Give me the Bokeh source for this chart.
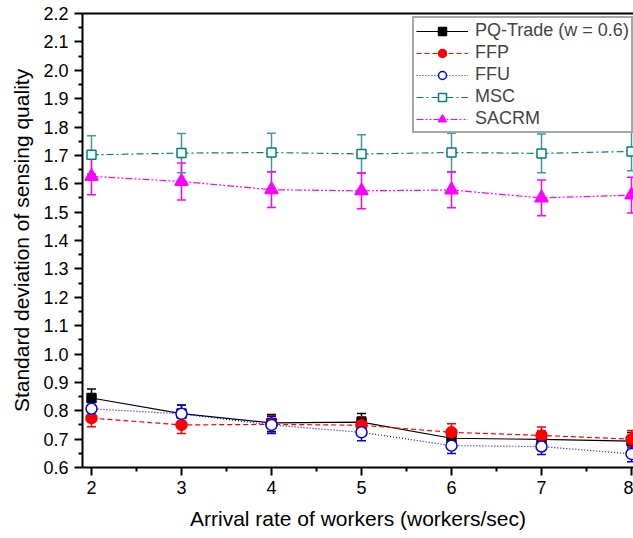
from bokeh.plotting import figure
from bokeh.models import (ColumnDataSource, Whisker, TeeHead, Range1d, FixedTicker,
                          Legend, LegendItem, LinearAxis, NumeralTickFormatter)
from bokeh.embed import file_html
from bokeh.resources import INLINE

# ---- data ----
x_vals = [2, 3, 4, 5, 6, 7, 8]
pq_trade = [0.845, 0.790, 0.757, 0.760, 0.703, 0.699, 0.693]
pq_err = [0.032, 0.030, 0.030, 0.030, 0.030, 0.030, 0.030]
ffp = [0.774, 0.750, 0.752, 0.749, 0.724, 0.713, 0.700]
ffp_err = [0.030, 0.030, 0.030, 0.030, 0.030, 0.030, 0.030]
ffu = [0.807, 0.789, 0.750, 0.724, 0.677, 0.674, 0.648]
ffu_err = [0.028, 0.030, 0.030, 0.030, 0.028, 0.028, 0.028]
msc = [1.702, 1.708, 1.710, 1.705, 1.710, 1.707, 1.714]
msc_err = [0.067, 0.069, 0.068, 0.068, 0.068, 0.068, 0.068]
sacrm = [1.626, 1.608, 1.579, 1.575, 1.578, 1.550, 1.560]
sacrm_err = [0.065, 0.065, 0.063, 0.063, 0.063, 0.063, 0.063]

x_ticks = [2, 3, 4, 5, 6, 7, 8]
x_minor_ticks = [2.5, 3.5, 4.5, 5.5, 6.5, 7.5]
y_ticks = [0.6, 0.7, 0.8, 0.9, 1.0, 1.1, 1.2, 1.3, 1.4, 1.5, 1.6, 1.7, 1.8, 1.9, 2.0, 2.1, 2.2]
y_minor_ticks = [0.65, 0.75, 0.85, 0.95, 1.05, 1.15, 1.25, 1.35, 1.45, 1.55,
                 1.65, 1.75, 1.85, 1.95, 2.05, 2.15]

series = [
    ("PQ-Trade (w = 0.6)", pq_trade, pq_err, "black", "solid", "square", "black", 9, "black"),
    ("FFP", ffp, ffp_err, "red", "5 3", "circle", "red", 11, "red"),
    ("FFU", ffu, ffu_err, "blue", "1 2", "circle", "white", 11, "blue"),
    ("MSC", msc, msc_err, "#008080", "7 3 2 3", "square", "white", 9, "#3c9c9c"),
    ("SACRM", sacrm, sacrm_err, "magenta", "7 2 2 2 2 2", "triangle", "magenta", 13, "magenta"),
]

FONT = "Liberation Sans"

p = figure(width=633, height=538, output_backend="svg", toolbar_location=None,
           x_range=Range1d(1.9, 8.0222), y_range=Range1d(0.6, 2.2),
           min_border_left=82, min_border_right=0, min_border_top=13, min_border_bottom=71)
p.grid.visible = False
p.outline_line_color = None
p.background_fill_color = "white"

items = []
for name, ys, errs, color, dash, marker, fill, size, wcolor in series:
    src = ColumnDataSource(dict(x=x_vals, y=ys,
                                upper=[a + b for a, b in zip(ys, errs)],
                                lower=[a - b for a, b in zip(ys, errs)]))
    w = Whisker(base="x", upper="upper", lower="lower", source=src,
                line_color=wcolor, line_width=1.5, level="underlay",
                upper_head=TeeHead(size=9, line_color=wcolor, line_width=1.5),
                lower_head=TeeHead(size=9, line_color=wcolor, line_width=1.5))
    p.add_layout(w)
    r1 = p.line("x", "y", source=src, line_color=color, line_dash=dash, line_width=1.2)
    r2 = p.scatter("x", "y", source=src, marker=marker, size=size,
                   line_color=color, fill_color=fill, line_width=1.5)
    items.append(LegendItem(label=name, renderers=[r1, r2]))

legend = Legend(items=items, location=(330, 334), label_text_font=FONT,
                label_text_font_size="18px", glyph_width=52, glyph_height=20,
                label_height=20, spacing=1, padding=2, margin=0, label_standoff=7,
                border_line_color="#505050", border_line_width=2,
                background_fill_alpha=1.0)
p.add_layout(legend, "center")

# axes styling
xa = p.xaxis[0]
xa.ticker = FixedTicker(ticks=x_ticks, minor_ticks=x_minor_ticks)
xa.axis_label = "Arrival rate of workers (workers/sec)"
ya = p.yaxis[0]
ya.ticker = FixedTicker(ticks=y_ticks, minor_ticks=y_minor_ticks)
ya.formatter = NumeralTickFormatter(format="0.0")
ya.axis_label = "Standard deviation of sensing quality"
for ax in (xa, ya):
    ax.axis_line_width = 2
    ax.axis_line_color = "black"
    ax.major_tick_in = 0
    ax.major_tick_out = 8
    ax.minor_tick_in = 0
    ax.minor_tick_out = 4
    ax.major_tick_line_width = 2
    ax.minor_tick_line_width = 2
    ax.major_tick_line_color = "black"
    ax.minor_tick_line_color = "black"
    ax.major_label_text_font = FONT
    ax.major_label_text_font_size = "18px"
    ax.major_label_text_color = "black"
    ax.axis_label_text_font = FONT
    ax.axis_label_text_font_size = "21px"
    ax.axis_label_text_font_style = "normal"
    ax.axis_label_text_color = "black"
xa.major_label_standoff = 5
xa.axis_label_standoff = 10
ya.major_label_standoff = 6
ya.axis_label_standoff = 7

top = LinearAxis(ticker=FixedTicker(ticks=[]), axis_line_width=2, axis_line_color="black",
                 major_tick_out=0, major_tick_in=0, minor_tick_out=0, minor_tick_in=0,
                 major_label_text_font_size="0px")
p.add_layout(top, "above")

open("out.html", "w").write(file_html(p, INLINE))
